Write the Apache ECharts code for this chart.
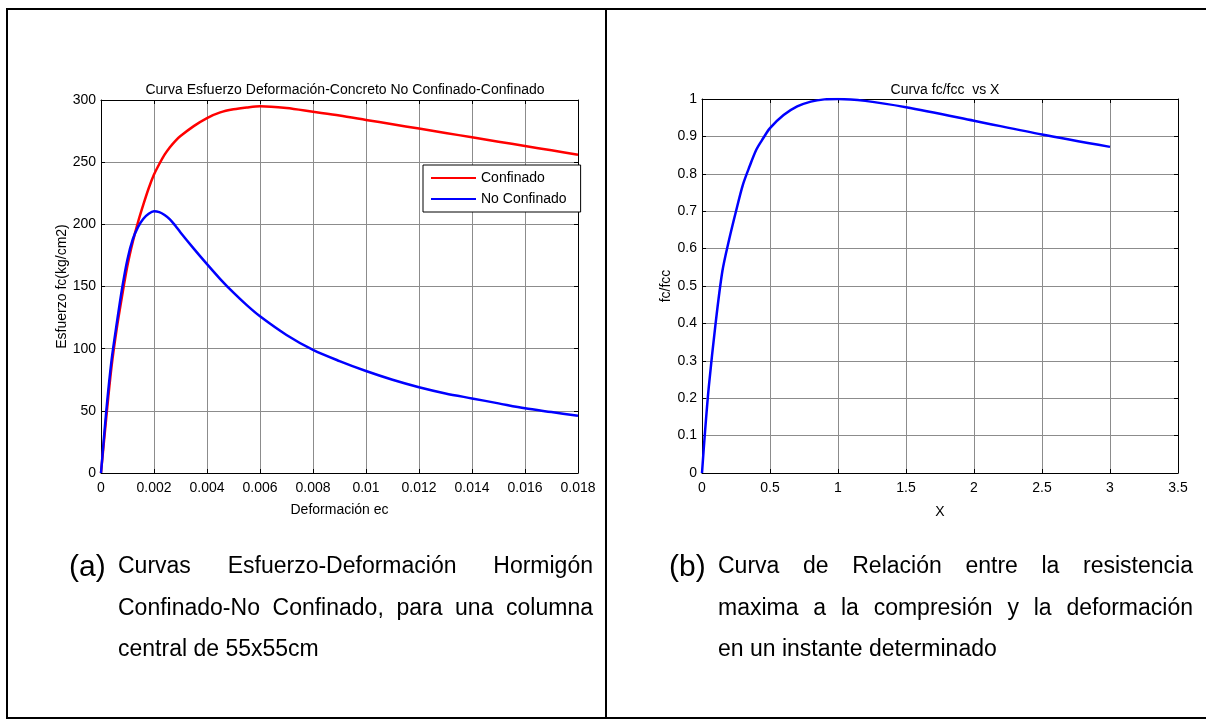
<!DOCTYPE html>
<html>
<head>
<meta charset="utf-8">
<script src="https://cdn.jsdelivr.net/npm/echarts@6/dist/echarts.min.js"></script>
<style>
  html, body { margin: 0; padding: 0; background: #fff; }
  #wrap { position: relative; width: 1206px; height: 725px; }
  #chart { position: absolute; left: 0; top: 0; width: 1206px; height: 725px; }
  .cap { position: absolute; width: 475px; font-family: "Liberation Sans", Arial, sans-serif; font-size: 23px; color: #000; }
  .cap div { height: 41.5px; line-height: 41.5px; white-space: nowrap; }
  .cap div.just { text-align: justify; text-align-last: justify; white-space: normal; }
  .tag { position: absolute; font-family: "Liberation Sans", Arial, sans-serif; font-size: 30px; line-height: 34px; color: #000; }
</style>
</head>
<body>
<div id="wrap">
  <div id="chart"></div>
  <div class="tag" style="left:69px;top:549px;">(a)</div>
  <div class="cap" style="left:118px;top:545px;">
    <div class="just">Curvas Esfuerzo-Deformación Hormigón</div>
    <div class="just">Confinado-No Confinado, para una columna</div>
    <div>central de 55x55cm</div>
  </div>
  <div class="tag" style="left:669px;top:549px;">(b)</div>
  <div class="cap" style="left:718px;top:545px;">
    <div class="just">Curva de Relación entre la resistencia</div>
    <div class="just">maxima a la compresión y la deformación</div>
    <div>en un instante determinado</div>
  </div>
</div>
<script>
// (a) esfuerzo-deformación
const strain = [0, 0.0002, 0.0004, 0.0006, 0.0008, 0.001, 0.0012, 0.0014, 0.0016, 0.0018,
  0.002, 0.0022, 0.0024, 0.0026, 0.0028, 0.003, 0.0035, 0.004, 0.0045, 0.005, 0.0055, 0.006,
  0.007, 0.008, 0.009, 0.01, 0.011, 0.012, 0.013, 0.014, 0.015, 0.016, 0.017, 0.018];
const confinado = [0, 45, 86, 117, 143, 167, 186, 202, 216, 229,
  240, 248.5, 256, 262, 267, 271, 279, 285.5, 290, 292.5, 294, 295,
  293.5, 290.5, 287.5, 284, 280.5, 277, 273.5, 270, 266.5, 263, 259.5, 256];
const noConfinado = [0, 50, 91, 121, 149, 172, 188, 198, 204.5, 208.5,
  210.5, 209.8, 207.5, 204, 199, 193.5, 180.5, 168, 156, 145, 135, 126,
  111, 99, 90, 82, 75, 69, 64, 60, 56, 52, 49, 46];
const strainTicks = [0, 0.002, 0.004, 0.006, 0.008, 0.01, 0.012, 0.014, 0.016, 0.018];
const stressTicks = [0, 50, 100, 150, 200, 250, 300];

// (b) fc/fcc vs X
const ratioX = [0, 0.02, 0.05, 0.1, 0.15, 0.2, 0.25, 0.3, 0.35, 0.4, 0.45, 0.5,
  0.6, 0.7, 0.8, 0.9, 1.0, 1.2, 1.5, 2.0, 2.5, 3.0];
const ratioY = [0, 0.10, 0.23, 0.40, 0.54, 0.625, 0.70, 0.77, 0.82, 0.865, 0.895, 0.922,
  0.957, 0.980, 0.993, 0.999, 1.0, 0.995, 0.978, 0.942, 0.905, 0.872];
const xTicks = [0, 0.5, 1, 1.5, 2, 2.5, 3, 3.5];
const ratioTicks = [0, 0.1, 0.2, 0.3, 0.4, 0.5, 0.6, 0.7, 0.8, 0.9, 1];

const FONT = 'Liberation Sans';
const black = '#000';
const gridColor = '#8c8c8c';

function axisPair(kind, gridIndex, ticks, extra) {
  const min = ticks[0], max = ticks[ticks.length - 1], interval = ticks[1] - ticks[0];
  const base = {
    gridIndex, type: 'value', min, max, interval,
    axisLine: { show: true, onZero: false, lineStyle: { color: black, width: 1 } },
    axisTick: { show: true, inside: true, length: 4, lineStyle: { color: black } }
  };
  const main = Object.assign({}, base, {
    position: kind === 'x' ? 'bottom' : 'left',
    axisLabel: { color: black, fontSize: 14, fontFamily: FONT, margin: kind === 'x' ? 8 : 5,
      formatter: v => String(+v.toFixed(4)) },
    splitLine: { show: true, lineStyle: { color: gridColor, width: 1 } },
    nameLocation: 'middle',
    nameTextStyle: { color: black, fontSize: 14, fontFamily: FONT }
  }, extra);
  const twin = Object.assign({}, base, {
    position: kind === 'x' ? 'top' : 'right',
    axisLabel: { show: false },
    splitLine: { show: false }
  });
  return [main, twin];
}

const xs = [
  ...axisPair('x', 0, strainTicks, { name: 'Deformación ec', nameGap: 30 }),
  ...axisPair('x', 1, xTicks, { name: 'X', nameGap: 32 })
];
const ys = [
  ...axisPair('y', 0, stressTicks, { name: 'Esfuerzo fc(kg/cm2)', nameGap: 28 }),
  ...axisPair('y', 1, ratioTicks, { name: 'fc/fcc', nameGap: 28 })
];

const chart = echarts.init(document.getElementById('chart'));
chart.setOption({
  animation: false,
  backgroundColor: '#fff',
  textStyle: { fontFamily: FONT },
  title: [
    { text: 'Curva Esfuerzo Deformación-Concreto No Confinado-Confinado', left: 340, top: 78, textAlign: 'center',
      textStyle: { fontSize: 14, fontWeight: 'normal', color: black, fontFamily: FONT } },
    { text: 'Curva fc/fcc  vs X', left: 940, top: 78, textAlign: 'center',
      textStyle: { fontSize: 14, fontWeight: 'normal', color: black, fontFamily: FONT } }
  ],
  grid: [
    { left: 101, top: 100, width: 477, height: 373 },
    { left: 702, top: 99, width: 476, height: 374 }
  ],
  xAxis: xs,
  yAxis: ys,
  legend: {
    data: ['Confinado', 'No Confinado'],
    orient: 'vertical', left: 423, top: 165,
    backgroundColor: '#fff', borderColor: black, borderWidth: 1,
    padding: [5, 14, 5, 8], itemWidth: 45, itemHeight: 2, itemGap: 5, icon: 'rect',
    textStyle: { fontSize: 14, color: black, lineHeight: 16, fontFamily: FONT }
  },
  graphic: [
    { type: 'line', shape: { x1: 6, y1: 9, x2: 1206, y2: 9 }, style: { stroke: black, lineWidth: 2 } },
    { type: 'line', shape: { x1: 7, y1: 9, x2: 7, y2: 718 }, style: { stroke: black, lineWidth: 2 } },
    { type: 'line', shape: { x1: 606, y1: 9, x2: 606, y2: 718 }, style: { stroke: black, lineWidth: 2 } },
    { type: 'line', shape: { x1: 6, y1: 718, x2: 1206, y2: 718 }, style: { stroke: black, lineWidth: 2 } }
  ],
  series: [
    { name: 'Confinado', type: 'line', xAxisIndex: 0, yAxisIndex: 0, showSymbol: false, smooth: 0.3,
      data: strain.map((x, i) => [x, confinado[i]]),
      lineStyle: { color: '#ff0000', width: 2.5 }, itemStyle: { color: '#ff0000' } },
    { name: 'No Confinado', type: 'line', xAxisIndex: 0, yAxisIndex: 0, showSymbol: false, smooth: 0.3,
      data: strain.map((x, i) => [x, noConfinado[i]]),
      lineStyle: { color: '#0000ff', width: 2.5 }, itemStyle: { color: '#0000ff' } },
    { name: 'fc/fcc', type: 'line', xAxisIndex: 2, yAxisIndex: 2, showSymbol: false, smooth: 0.3,
      data: ratioX.map((x, i) => [x, ratioY[i]]),
      lineStyle: { color: '#0000ff', width: 2.5 }, itemStyle: { color: '#0000ff' } }
  ]
});
</script>
</body>
</html>
